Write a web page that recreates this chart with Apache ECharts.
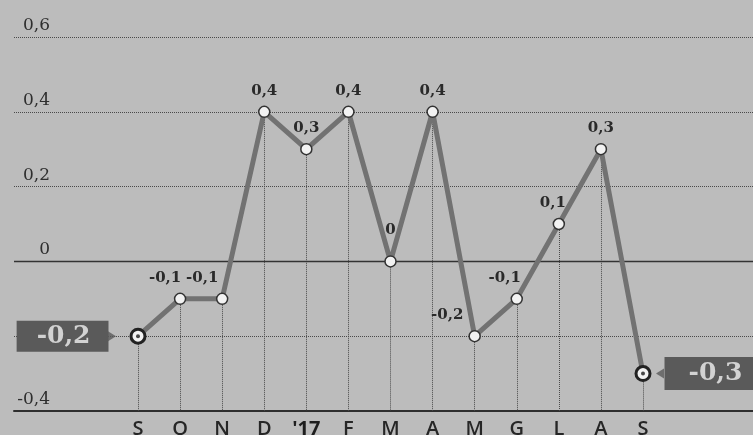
<!DOCTYPE html>
<html>
<head>
<meta charset="utf-8">
<script src="https://cdn.jsdelivr.net/npm/echarts@6/dist/echarts.min.js"></script>
<style>
  html, body { margin: 0; padding: 0; background: #bcbcbc; }
  #chart { width: 753px; height: 435px; }
</style>
</head>
<body>
<div id="chart"></div>
<script>
const months = ['S', 'O', 'N', 'D', "'17", 'F', 'M', 'A', 'M', 'G', 'L', 'A', 'S'];
const values = [-0.2, -0.1, -0.1, 0.4, 0.3, 0.4, 0, 0.4, -0.2, -0.1, 0.1, 0.3, -0.3];
const yTicks = [-0.4, -0.2, 0, 0.2, 0.4, 0.6];

const fmt = (v) => String(v).replace('.', ',');
const last = values.length - 1;

// small nudges for labels that sit off-centre in the original
const labelTweaks = {
  1: { offset: [-15, 0] },
  2: { offset: [-20, 0] },
  6: { offset: [0, -11] },
  8: { position: 'left', distance: 5, offset: [0, -21] },
  9: { offset: [-12, 0] },
  10: { offset: [-6, 0] }
};

const boxStyle = {
  backgroundColor: '#5a5a5a',
  color: '#d2d2d2',
  fontFamily: 'DejaVu Serif',
  fontWeight: 'bold',
  fontSize: 25,
  lineHeight: 27
};

const lineData = values.map((v, i) => {
  if (i === 0) {
    return {
      value: v,
      symbolSize: 14,
      itemStyle: { borderWidth: 3, borderColor: '#222' },
      label: Object.assign({ position: 'left', distance: 21, padding: [2, 18, 2, 20] }, boxStyle)
    };
  }
  if (i === last) {
    return {
      value: v,
      symbolSize: 14,
      itemStyle: { borderWidth: 3, borderColor: '#222' },
      label: Object.assign({ position: 'right', distance: 13, padding: [3, 20, 3, 24] }, boxStyle)
    };
  }
  return labelTweaks[i] ? { value: v, label: labelTweaks[i] } : v;
});

const chart = echarts.init(document.getElementById('chart'));

chart.setOption({
  backgroundColor: '#bcbcbc',
  animation: false,
  grid: [
    { left: 14, right: 0, top: 37, bottom: 24, outerBoundsMode: 'none' },
    { left: 138, right: 110, top: 37, bottom: 24, outerBoundsMode: 'none' }
  ],
  xAxis: [
    {
      type: 'value', gridIndex: 0, min: 0, max: 1,
      axisLine: { show: true, onZero: false, lineStyle: { color: '#2e2e2e', width: 2 } },
      axisTick: { show: false },
      axisLabel: { show: false },
      splitLine: { show: false }
    },
    {
      type: 'category', gridIndex: 1, data: months, boundaryGap: false,
      axisLine: { show: false },
      axisTick: { show: false },
      axisLabel: {
        interval: 0,
        margin: 8,
        color: '#262626',
        fontFamily: 'Open Sans',
        fontSize: 20,
        fontWeight: 600,
        formatter: (v) => (v.startsWith("'") ? '{b|' + v + '}' : v),
        rich: { b: { fontFamily: 'Open Sans', fontSize: 20, fontWeight: 'bold', color: '#1e1e1e' } }
      },
      splitLine: { show: false }
    }
  ],
  yAxis: [
    {
      type: 'value', gridIndex: 0, min: -0.4, max: 0.6, interval: 0.2,
      axisLine: { show: false },
      axisTick: { show: false },
      axisLabel: {
        inside: true,
        margin: 36,
        align: 'right',
        verticalAlign: 'bottom',
        padding: [0, 0, 3, 0],
        color: '#2e2e2e',
        fontFamily: 'DejaVu Serif',
        fontSize: 17,
        formatter: (v) => {
          const t = yTicks.find((k) => Math.abs(k - v) < 1e-9);
          if (t === undefined || Math.abs(t + 0.2) < 1e-9) return '';
          return fmt(t);
        }
      },
      splitLine: { lineStyle: { type: 'dotted', color: '#4a4a4a', width: 1 } }
    },
    {
      type: 'value', gridIndex: 1, min: -0.4, max: 0.6, interval: 0.2,
      show: false
    }
  ],
  series: [
    {
      // zero line across the whole width
      type: 'line', xAxisIndex: 0, yAxisIndex: 0,
      data: [[0, 0], [1, 0]],
      symbol: 'none',
      lineStyle: { color: '#333', width: 1.5 },
      silent: true,
      z: 1
    },
    {
      // dotted drop lines under each point
      type: 'line', xAxisIndex: 1, yAxisIndex: 1,
      data: values,
      symbol: 'none',
      lineStyle: { opacity: 0 },
      silent: true,
      markLine: {
        z: 1,
        silent: true,
        symbol: ['none', 'none'],
        label: { show: false },
        lineStyle: { type: 'dotted', color: '#4a4a4a', width: 1 },
        data: values.map((v, i) => [{ coord: [i, v] }, { coord: [i, yTicks[0]] }])
      },
      z: 1
    },
    {
      type: 'line', xAxisIndex: 1, yAxisIndex: 1,
      data: lineData,
      symbol: 'circle',
      symbolSize: 11,
      itemStyle: { color: '#f2f2f2', borderColor: '#333', borderWidth: 1.5 },
      lineStyle: { color: '#727272', width: 5 },
      label: {
        show: true,
        position: 'top',
        distance: 7,
        color: '#2a2a2a',
        fontFamily: 'DejaVu Serif',
        fontWeight: 'bold',
        fontSize: 15,
        formatter: (p) => fmt(p.value)
      },
      z: 3
    },
    {
      // centre dots of the first and last markers
      type: 'scatter', xAxisIndex: 1, yAxisIndex: 1,
      data: [[0, values[0]], [last, values[last]]],
      symbolSize: 4,
      itemStyle: { color: '#1a1a1a' },
      silent: true,
      z: 5
    },
    {
      // arrows of the value boxes
      type: 'scatter', xAxisIndex: 1, yAxisIndex: 1,
      data: [
        { value: [0, values[0]], symbolRotate: -90, symbolOffset: [-26, 0] },
        { value: [last, values[last]], symbolRotate: 90, symbolOffset: [17, 0] }
      ],
      symbol: 'triangle',
      symbolSize: [10, 8],
      itemStyle: { color: '#5a5a5a' },
      silent: true,
      z: 4
    }
  ]
});
</script>
</body>
</html>
